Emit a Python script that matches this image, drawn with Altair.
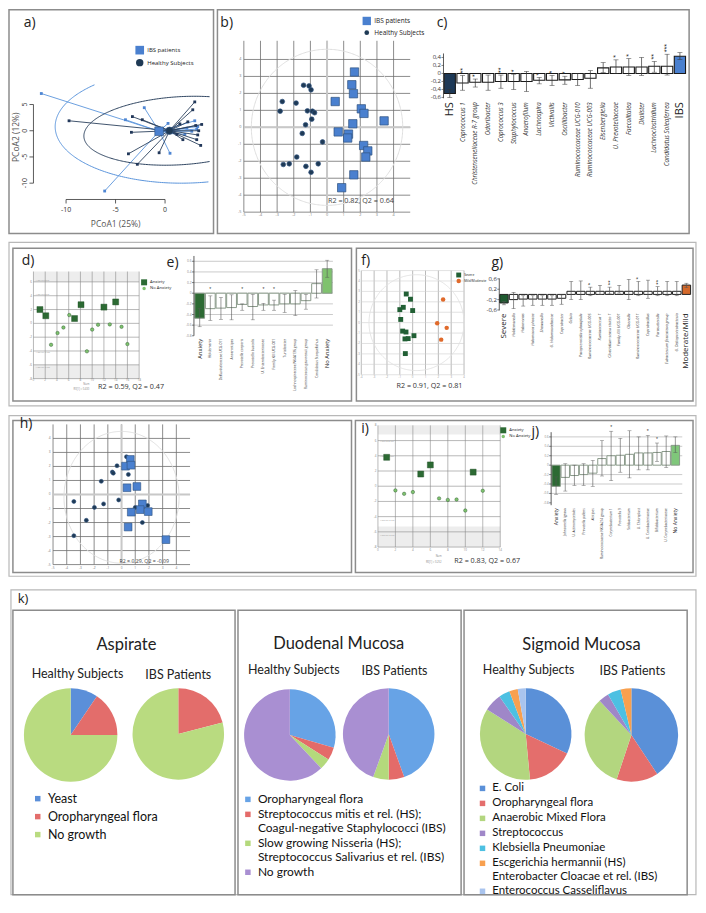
import numpy as np
import pandas as pd
import altair as alt

# ---------------------------------------------------------------- layout helpers
W, H = 690, 888
SX, SY = 0.98, 0.975


def LX(r):
    return (r - 2.0) * SX


def LY(r):
    return (r - 2.0) * SY


FONT = "Open Sans"
KFONT = "Lato"
ONE = pd.DataFrame({"z": [0]})

# ---------------------------------------------------------------- data
# a) PCoA
A_GROUPS = ["IBS patients", "Healthy Subjects"]
A_IBS_X = [-12.5, -6.1, -4.0, -2.1, 0.5, 0.3, 2.0, 3.0, 3.2, 3.3, 2.7, 0.9, 2.2]
A_IBS_Y = [7.1, -11.5, 2.1, 4.4, -4.3, 1.4, -0.7, 1.9, 0.3, 0.8, -0.1, -0.4, 0.5]
A_HS_X = [-9.7, -3.3, -2.3, -3.4, -3.7, -2.8, 3.0, 2.8, 3.6, 1.8, 3.3, 2.3, 3.4, 3.7, 3.1, 1.5, 1.2, -0.6, 3.2]
A_HS_Y = [1.9, 2.7, 2.1, -0.3, -4.4, -6.4, 5.5, 4.0, -2.8, -1.7, -0.8, 1.7, 0.0, 1.2, 1.0, 1.3, -0.7, -4.2, -1.7]
A_CENTROID_X = [-0.6, 0.45]
A_CENTROID_Y = [-0.1, 0.0]
A_ELL_IBS = [1.9, 1.0, 13.0, 11.0, 0.22]   # cx, cy, a, b, shear
A_ELL_HS = [1.5, 0.0, 9.7, 6.5, 1.0]
A_XTICKS = [-10, -5, 0]
A_YTICKS = [-10, -5, 0, 5]

# b) PLS-DA scores IBS vs HS
B_HS_X = [-1.41, -1.08, -0.96, -2.69, -1.86, -2.82, -1.18, -0.88, -0.75, -0.92, -1.29, -1.49, -0.27, -1.82, -2.63, -2.27, -1.27, -0.53, -0.96]
B_HS_Y = [2.48, 2.44, 2.21, 1.52, 1.43, 0.95, 0.97, 0.95, 0.86, 0.48, 0.15, -0.36, -0.86, -1.75, -2.19, -2.15, -2.30, -2.15, -2.65]
B_IBS_X = [1.65, 1.49, 1.59, 0.49, 2.06, 2.22, 1.55, 3.43, 0.67, 1.29, 1.24, 2.20, 2.45, 2.33, 1.61, 0.88]
B_IBS_Y = [3.26, 2.51, 1.98, 1.52, 1.09, 0.82, 0.21, 0.38, -0.27, -0.40, -0.63, -1.07, -1.39, -1.75, -2.80, -3.56]

# c) loadings IBS vs HS
C_CATS = ["HS", "Coprococcus 1", "Christensenellaceae R-7 group", "Odoribacter", "Coprococcus 3",
          "Staphylococcus", "Anaerofilum", "Lachnospira", "Victivallis", "Oscillibacter",
          "Ruminococcaceae UCG-010", "Ruminococcaceae UCG-003", "Eisenbergiella", "U. Prevotellaceae",
          "Faecalitalea", "Dialister", "Lachnoclostridium", "Candidatus Soleaferrea", "IBS"]
C_VAL = [-0.5, -0.24, -0.22, -0.22, -0.2, -0.2, -0.2, -0.17, -0.17, -0.16, -0.15, -0.12, 0.14, 0.16, 0.16, 0.16, 0.18, 0.18, 0.43]
C_LO = [-0.6, -0.42, -0.34, -0.42, -0.37, -0.4, -0.45, -0.26, -0.3, -0.27, -0.3, -0.37, 0.02, 0.0, -0.05, -0.05, 0.03, -0.04, 0.35]
C_HI = [-0.4, -0.05, -0.14, -0.04, -0.04, -0.02, 0.05, -0.1, -0.05, -0.07, 0.0, 0.07, 0.27, 0.34, 0.37, 0.4, 0.3, 0.48, 0.52]
C_SIG = ["", "**", "*", "", "**", "*", "", "*", "*", "*", "", "", "", "*", "*", "", "**", "***", ""]
C_YTICKS = [-0.6, -0.4, -0.2, 0, 0.2, 0.4]

# d) scores anxiety
D_GROUPS = ["Anxiety", "No Anxiety"]
D_ANX_X = [1.1, 2.1, 7.0, 8.1, 12.0, 14.0]
D_ANX_Y = [2.0, 1.1, 0.7, 2.7, 2.35, 3.1]
D_NO_X = [3.0, 4.1, 5.1, 6.1, 9.1, 10.0, 11.0, 13.0, 15.0, 16.0]
D_NO_Y = [-3.1, -1.4, -0.6, 1.2, -4.05, -0.9, -0.2, -0.15, -0.5, -3.0]
SD_LABELS = ["1.0046*3 SD", "1.0046*2 SD", "1.0046*-2 SD", "1.0046*-3 SD"]
D_SD_Y = [6.3, 4.2, -4.2, -6.3]

# e) loadings anxiety
E_CATS = ["Anxiety", "Holdemania", "Defluviitaleaceae UCG-011", "Anaerostipes", "Prevotella corporis",
          "Prevotella buccalis", "U. Enterobacteriaceae", "Family XIII UCG-001", "Turicibacter",
          "Lachnospiraceae NK4A136 group", "Ruminococcus gauvreauii group", "Candidatus Stoquefichus", "No Anxiety"]
E_VAL = [-0.47, -0.29, -0.28, -0.27, -0.21, -0.25, -0.22, -0.22, -0.2, -0.2, -0.14, 0.18, 0.46]
E_LO = [-0.63, -0.51, -0.49, -0.5, -0.32, -0.5, -0.32, -0.32, -0.36, -0.42, -0.3, -0.09, 0.3]
E_HI = [-0.29, -0.05, -0.08, -0.03, -0.2, -0.02, -0.19, -0.13, -0.02, 0.05, -0.02, 0.44, 0.62]
E_SIG = ["", "*", "", "", "*", "", "*", "*", "", "", "", "", ""]
E_YTICKS = [-0.8, -0.6, -0.4, -0.2, 0, 0.2, 0.4, 0.6]

# f) scores severity
F_GROUPS = ["Severe", "Mild/Moderate"]
F_SEV_X = [-0.5, -0.17, -1.0, -0.73, 0.0, -0.93, -0.78, -0.52, -0.6, -0.35, 0.1, -0.57]
F_SEV_Y = [2.75, 2.25, 1.25, 1.47, 1.16, 0.31, -0.81, -0.9, -1.56, -1.53, -1.25, -2.97]
F_MOD_X = [2.37, 1.91, 2.65, 2.22]
F_MOD_Y = [2.22, -0.06, -0.5, -1.63]

# g) loadings severity
G_CATS = ["Severe", "Holdemanella", "Halomonas", "Halomonas phocae", "Shewanella", "U. Halomonadaceae",
          "Coprobacter", "Gelria", "Paraprevotella xylaniphila", "Ruminococcaceae UCG-005", "Ruminococcus 1",
          "Clostridium sensu stricto 1", "Family XIII UCG-001", "Olsenella", "Ruminococcaceae UCG-011",
          "Coprobacillus", "Parasutterella", "Eubacterium fissicatena group", "U. Deltaproteobacteria", "Moderate/Mild"]
G_VAL = [-0.33, -0.2, -0.18, -0.18, -0.18, -0.18, -0.15, 0.12, 0.12, 0.12, 0.12, 0.12, 0.12, 0.12, 0.12, 0.12, 0.12, 0.12, 0.12, 0.36]
G_LO = [-0.4, -0.55, -0.45, -0.42, -0.42, -0.42, -0.38, -0.2, -0.2, -0.05, 0.0, 0.02, 0.05, -0.2, -0.05, -0.15, -0.05, -0.05, -0.05, 0.26]
G_HI = [-0.28, 0.08, -0.05, -0.05, -0.05, -0.05, -0.02, 0.5, 0.52, 0.28, 0.35, 0.28, 0.35, 0.58, 0.5, 0.55, 0.3, 0.5, 0.5, 0.43]
G_SIG = ["", "", "", "", "", "", "", "", "", "*", "", "**", "", "", "*", "", "**", "", "", ""]
G_YTICKS = [-0.6, -0.2, 0.2, 0.6]

# h) scores (mucosa)
H_GROUPS = ["Healthy Subjects", "IBS patients"]
H_HS_X = [-3.48, -2.57, -1.98, -3.48, -1.48, -1.31, -0.67, -0.6, -0.33, -0.21, 0.36, 0.5, 1.0, 1.9, 1.52]
H_HS_Y = [-0.5, -1.84, -0.92, -2.94, 0.94, -0.67, 1.6, 1.52, 2.05, -0.39, 2.69, 1.43, -0.92, -0.78, -2.0]
H_IBS_X = [0.64, 0.29, 0.69, 1.12, 0.4, 1.52, 1.36, 0.71, 1.95, 0.48, 3.24]
H_IBS_Y = [2.5, 2.02, 2.09, 0.57, 0.48, -0.67, -1.08, -1.26, -1.22, -2.32, -3.22]

# i) scores anxiety (mucosa)
I_ANX_X = [1.0, 4.9, 6.0, 10.9]
I_ANX_Y = [3.8, 1.6, 2.8, 1.85]
I_NO_X = [2.0, 3.0, 4.0, 7.0, 8.0, 9.0, 10.0, 12.0]
I_NO_Y = [-0.55, -1.0, -0.77, -1.6, -1.8, -1.75, -3.2, -0.6]
I_SD_Y = [6.0, 4.0, -4.4, -6.4]

# j) loadings anxiety (mucosa)
J_CATS = ["Anxiety", "Johnsonella ignava", "U. Actinomycetales", "Prevotella pallens", "Alistipes",
          "Ruminococcaceae NK4A214 group", "Corynebacterium 1", "Prevotella 9", "Solobacterium",
          "U. Chloroplast", "U. Coriobacteriaceae", "Bifidobacterium", "U. Corynebacteriaceae", "No Anxiety"]
J_VAL = [-0.45, -0.26, -0.22, -0.2, -0.17, 0.14, 0.2, 0.21, 0.23, 0.26, 0.26, 0.27, 0.29, 0.42]
J_LO = [-0.62, -0.55, -0.43, -0.43, -0.45, -0.23, -0.33, -0.15, -0.27, -0.1, -0.1, 0.08, -0.05, 0.27]
J_HI = [-0.25, 0.03, 0.0, 0.03, 0.1, 0.52, 0.72, 0.57, 0.73, 0.6, 0.63, 0.47, 0.62, 0.6]
J_SIG = ["", "", "", "", "", "", "*", "", "", "", "*", "*", "", ""]

# k) culture pies (percent)
K_ASP_CATS = ["Yeast", "Oropharyngeal flora", "No growth"]
K_ASP_HS = [9.5, 15.5, 75.0]
K_ASP_IBS = [0.0, 21.0, 79.0]
K_ASP_COLORS = ["#5b8fd9", "#e36d6b", "#b9db80"]

K_DUO_CATS = ["Oropharyngeal flora",
              "Streptococcus mitis et rel. (HS);|Coagul-negative Staphylococci (IBS)",
              "Slow growing Nisseria (HS);|Streptococcus Salivarius et rel. (IBS)",
              "No growth"]
K_DUO_HS = [29.5, 4.5, 4.0, 62.0]
K_DUO_IBS = [44.5, 5.5, 5.5, 44.5]
K_DUO_COLORS = ["#67a3e6", "#e46b69", "#b4d97c", "#a98fd2"]

K_SIG_CATS = ["E. Coli", "Oropharyngeal flora", "Anaerobic Mixed Flora", "Streptococcus",
              "Klebsiella Pneumoniae", "Escgerichia hermannii (HS)|Enterobacter Cloacae et rel. (IBS)",
              "Enterococcus Casseliflavus"]
K_SIG_HS = [32.0, 16.5, 35.5, 6.3, 3.9, 3.0, 2.8]
K_SIG_IBS = [40.7, 14.4, 33.0, 3.6, 4.6, 3.7, 0.0]
K_SIG_COLORS = ["#5a90d8", "#e46e6c", "#b3d67f", "#9f87c8", "#4dc0e2", "#f8a04f", "#a9c4ee"]

# ---------------------------------------------------------------- builders


def qx(lo, hi, p0, p1):
    return alt.Scale(domain=[lo, hi], range=[LX(p0), LX(p1)], nice=False, zero=False)


def qy(lo, hi, pbot, ptop):
    return alt.Scale(domain=[lo, hi], range=[LY(pbot), LY(ptop)], nice=False, zero=False)


def fmt(v, comma=False):
    if v == 0:
        return "0"
    s = f"{abs(v):.1f}"
    if comma:
        s = s.replace(".", ",")
    return ("-" if v < 0 else "") + s


def text(s, x, y, size, color="#222", font=FONT, align="left", weight="normal", angle=0):
    props = dict(text=s, font=font, fontSize=size, color=color, align=align, baseline="middle",
                 fontWeight=weight)
    if angle:
        props["angle"] = angle
    return alt.Chart(ONE).mark_text(**props).encode(x=alt.value(LX(x)), y=alt.value(LY(y)))


def frame(x0, y0, x1, y1, color, width):
    return alt.Chart(ONE).mark_rect(fillOpacity=0, stroke=color, strokeWidth=width).encode(
        x=alt.value(LX(x0)), x2=alt.value(LX(x1)), y=alt.value(LY(y0)), y2=alt.value(LY(y1)))


def vgrid(vals, xs, ys, y0, y1, color, width):
    return alt.Chart(pd.DataFrame({"v": list(vals)})).mark_rule(color=color, strokeWidth=width).encode(
        x=alt.X("v:Q", scale=xs, axis=None),
        y=alt.YDatum(y0, type="quantitative", scale=ys, axis=None), y2=alt.Y2Datum(y1))


def hgrid(vals, xs, ys, x0, x1, color, width):
    return alt.Chart(pd.DataFrame({"v": list(vals)})).mark_rule(color=color, strokeWidth=width).encode(
        y=alt.Y("v:Q", scale=ys, axis=None),
        x=alt.XDatum(x0, type="quantitative", scale=xs, axis=None), x2=alt.X2Datum(x1))


def bands(spans, xs, ys, x0, x1, color):
    df = pd.DataFrame({"y0": [s[0] for s in spans], "y1": [s[1] for s in spans]})
    return alt.Chart(df).mark_rect(color=color).encode(
        x=alt.XDatum(x0, type="quantitative", scale=xs, axis=None), x2=alt.X2Datum(x1),
        y=alt.Y("y0:Q", scale=ys, axis=None), y2="y1:Q")


def xlabels(vals, labels, xs, y_ref, size, color, font=FONT):
    df = pd.DataFrame({"v": list(vals), "t": list(labels)})
    return alt.Chart(df).mark_text(fontSize=size, color=color, font=font, baseline="top", align="center").encode(
        x=alt.X("v:Q", scale=xs, axis=None), y=alt.value(LY(y_ref)), text="t:N")


def ylabels(vals, labels, ys, x_ref, size, color, font=FONT, rotated=False, align="right"):
    df = pd.DataFrame({"v": list(vals), "t": list(labels)})
    if rotated:
        mk = alt.Chart(df).mark_text(fontSize=size, color=color, font=font, angle=270, align="center",
                                     baseline="bottom")
    else:
        mk = alt.Chart(df).mark_text(fontSize=size, color=color, font=font, align=align, baseline="middle")
    return mk.encode(y=alt.Y("v:Q", scale=ys, axis=None), x=alt.value(LX(x_ref)), text="t:N")


def xticks(vals, xs, y_ref, length, color="#333", width=0.8):
    df = pd.DataFrame({"v": list(vals)})
    return alt.Chart(df).mark_rule(color=color, strokeWidth=width).encode(
        x=alt.X("v:Q", scale=xs, axis=None), y=alt.value(LY(y_ref)), y2=alt.value(LY(y_ref) + length))


def yticks(vals, ys, x_ref, length, color="#333", width=0.8):
    df = pd.DataFrame({"v": list(vals)})
    return alt.Chart(df).mark_rule(color=color, strokeWidth=width).encode(
        y=alt.Y("v:Q", scale=ys, axis=None), x=alt.value(LX(x_ref) - length), x2=alt.value(LX(x_ref)))


def ellipse_rows(params, xdom, ydom, tag, n=361):
    cx, cy, a, b, k = params
    t = np.linspace(0, 2 * np.pi, n)
    ex = cx + a * np.cos(t)
    ey = cy + b * np.sin(t) + k * np.cos(t)
    rows, seg, prev = [], 0, False
    for i in range(n):
        inside = xdom[0] <= ex[i] <= xdom[1] and ydom[0] <= ey[i] <= ydom[1]
        if inside:
            if not prev:
                seg += 1
            rows.append({"x": float(ex[i]), "y": float(ey[i]), "i": i, "seg": f"{tag}-{seg}", "grp": tag})
        prev = inside
    return rows


def outline(params, xs, ys, xdom, ydom, color, width=1.0):
    df = pd.DataFrame(ellipse_rows(params, xdom, ydom, "c"))
    return alt.Chart(df).mark_line(color=color, strokeWidth=width).encode(
        x=alt.X("x:Q", scale=xs, axis=None), y=alt.Y("y:Q", scale=ys, axis=None),
        detail="seg:N", order="i:Q")


def small_legend(x, y, size, rowpad=2):
    return alt.Legend(orient="none", legendX=LX(x), legendY=LY(y), title=None, labelFont=FONT,
                      labelFontSize=size, labelColor="#222", rowPadding=rowpad, labelLimit=300,
                      symbolStrokeWidth=0, labelOffset=3)


def group_points(xl, yl, groups, xs, ys, colors, shapes, sizes, legend=None, stroke=None, sw=0.0):
    xv, yv, gv = [], [], []
    for g, X_, Y_ in zip(groups, xl, yl):
        xv += list(X_)
        yv += list(Y_)
        gv += [g] * len(X_)
    df = pd.DataFrame({"x": xv, "y": yv, "grp": gv})
    props = dict(filled=True, opacity=1)
    if stroke:
        props.update(stroke=stroke, strokeWidth=sw)
    return alt.Chart(df).mark_point(**props).encode(
        x=alt.X("x:Q", scale=xs, axis=None), y=alt.Y("y:Q", scale=ys, axis=None),
        color=alt.Color("grp:N", scale=alt.Scale(domain=groups, range=colors), legend=legend),
        shape=alt.Shape("grp:N", scale=alt.Scale(domain=groups, range=shapes), legend=legend),
        size=alt.Size("grp:N", scale=alt.Scale(domain=groups, range=sizes), legend=legend))


def bar_panel(cats, vals, los, his, sigs, x0, x1, ybot, ytop, ydom, fills, stroke, sw, errc, cap,
              yvals, comma, ysize, ylabc, big, bigsize, smallsize, italic, star_rot, star_size,
              star_fixed=None, pin=0.12, pout=0.05, pad=3, errw=0.7, big_color="#222"):
    n = len(cats)
    roles = ["lo"] + ["mid"] * (n - 2) + ["hi"]
    df = pd.DataFrame({"cat": cats, "val": vals, "lo": los, "hi": his, "sig": sigs, "role": roles})
    xs = alt.Scale(domain=cats, range=[LX(x0), LX(x1)], paddingInner=pin, paddingOuter=pout)
    ys = qy(ydom[0], ydom[1], ybot, ytop)
    bx = alt.X("cat:N", scale=xs, axis=None)
    bars = alt.Chart(df).mark_bar(stroke=stroke, strokeWidth=sw).encode(
        x=bx, y=alt.Y("val:Q", scale=ys, axis=None), y2=alt.Y2Datum(0),
        fill=alt.Fill("role:N", scale=alt.Scale(domain=["lo", "mid", "hi"], range=fills), legend=None))
    err = alt.Chart(df).mark_rule(color=errc, strokeWidth=errw).encode(
        x=bx, y=alt.Y("lo:Q", scale=ys, axis=None), y2="hi:Q")
    cap_lo = alt.Chart(df).mark_tick(color=errc, thickness=errw, size=cap).encode(
        x=bx, y=alt.Y("lo:Q", scale=ys, axis=None))
    cap_hi = alt.Chart(df).mark_tick(color=errc, thickness=errw, size=cap).encode(
        x=bx, y=alt.Y("hi:Q", scale=ys, axis=None))
    sdf = df[df.sig != ""]
    if star_rot:
        st = alt.Chart(sdf).mark_text(angle=270, align="left", baseline="middle", dx=2, fontSize=star_size,
                                      color="#222").encode(
            x=bx, y=alt.Y("hi:Q", scale=ys, axis=None), text="sig:N")
    elif star_fixed is not None:
        st = alt.Chart(sdf).mark_text(baseline="bottom", fontSize=star_size, color="#333").encode(
            x=bx, y=alt.YDatum(star_fixed, type="quantitative", scale=ys, axis=None), text="sig:N")
    else:
        st = alt.Chart(sdf).mark_text(baseline="bottom", dy=-1, fontSize=star_size, color="#333").encode(
            x=bx, y=alt.Y("hi:Q", scale=ys, axis=None), text="sig:N")
    yline = alt.Chart(ONE).mark_rule(color="#333", strokeWidth=0.8).encode(
        x=alt.value(LX(x0)), y=alt.YDatum(ydom[0], type="quantitative", scale=ys, axis=None),
        y2=alt.Y2Datum(ydom[1]))
    ytk = yticks(yvals, ys, x0, 2, "#333", 0.6)
    ylab = ylabels(yvals, [fmt(v, comma) for v in yvals], ys, x0 - 2.5, ysize, ylabc)
    small = df[~df.cat.isin(big)]
    bigdf = df[df.cat.isin(big)]
    lab_small = alt.Chart(small).mark_text(angle=270, align="right", baseline="middle", fontSize=smallsize,
                                           fontStyle="italic" if italic else "normal", color="#333",
                                           font=FONT).encode(
        x=bx, y=alt.value(LY(ybot) + pad), text="cat:N")
    lab_big = alt.Chart(bigdf).mark_text(angle=270, align="right", baseline="middle", fontSize=bigsize,
                                         color=big_color, font=FONT).encode(
        x=bx, y=alt.value(LY(ybot) + pad), text="cat:N")
    return alt.layer(bars, err, cap_lo, cap_hi, st, yline, ytk, ylab, lab_small, lab_big)


layers = []

# ---------------------------------------------------------------- frames
FR, FR2 = "#8c8c8c", "#b8b8b8"
FRAMES = [
    (2, 2, 211, 232, FR, 1.5), (215, 2, 697, 232, FR, 1.5),
    (2, 241, 704, 409, FR2, 1.2), (6, 247, 352, 404, FR, 1.5), (357, 247, 701, 404, FR, 1.5),
    (2, 419, 704, 584, FR2, 1.2), (6, 424, 352, 580, FR, 1.5), (356, 424, 701, 580, FR, 1.5),
    (4, 598, 704, 911, FR2, 1.2), (6, 619, 233, 911, FR, 1.5), (236, 619, 464, 911, FR, 1.5),
    (467, 619, 695, 911, FR, 1.5),
]
for f in FRAMES:
    layers.append(frame(*f))

# ---------------------------------------------------------------- a)
a_xd, a_yd = (-12.7, 4.5), (-12.0, 8.8)
a_xs = qx(a_xd[0], a_xd[1], 33, 207)
a_ys = qy(a_yd[0], a_yd[1], 191, 79)
A_LINE_COLORS = ["#5b95db", "#2c425e"]
A_PT_COLORS = ["#4f86d3", "#22385a"]


def a_group_layers(xv, yv, cx, cy, ell, lc, pc):
    df = pd.DataFrame({"x": xv, "y": yv, "cx": [cx] * len(xv), "cy": [cy] * len(xv)})
    edf = pd.DataFrame(ellipse_rows(ell, a_xd, a_yd, "e"))
    return [
        alt.Chart(edf).mark_line(strokeWidth=1, color=lc).encode(
            x=alt.X("x:Q", scale=a_xs, axis=None), y=alt.Y("y:Q", scale=a_ys, axis=None),
            detail="seg:N", order="i:Q"),
        alt.Chart(df).mark_rule(strokeWidth=0.9, color=lc).encode(
            x=alt.X("x:Q", scale=a_xs, axis=None), y=alt.Y("y:Q", scale=a_ys, axis=None),
            x2="cx:Q", y2="cy:Q"),
        alt.Chart(df).mark_point(shape="square", filled=True, size=8, opacity=1, color=pc).encode(
            x=alt.X("x:Q", scale=a_xs, axis=None), y=alt.Y("y:Q", scale=a_ys, axis=None)),
    ]


panel_a = alt.layer(
    *a_group_layers(A_IBS_X, A_IBS_Y, A_CENTROID_X[0], A_CENTROID_Y[0], A_ELL_IBS, A_LINE_COLORS[0], A_PT_COLORS[0]),
    *a_group_layers(A_HS_X, A_HS_Y, A_CENTROID_X[1], A_CENTROID_Y[1], A_ELL_HS, A_LINE_COLORS[1], A_PT_COLORS[1]),
    group_points([[A_CENTROID_X[0]], [A_CENTROID_X[1]]], [[A_CENTROID_Y[0]], [A_CENTROID_Y[1]]],
                 A_GROUPS, a_xs, a_ys, ["#4a80cf", "#1f3a55"], ["square", "circle"], [75, 55],
                 legend=small_legend(131, 39, 6, rowpad=4), stroke="#2f527f", sw=0.6),
    alt.Chart(ONE).mark_rule(color="#333", strokeWidth=0.8).encode(
        x=alt.XDatum(-10, type="quantitative", scale=a_xs, axis=None), x2=alt.X2Datum(0),
        y=alt.value(LY(197))),
    alt.Chart(ONE).mark_rule(color="#333", strokeWidth=0.8).encode(
        y=alt.YDatum(-10, type="quantitative", scale=a_ys, axis=None), y2=alt.Y2Datum(5),
        x=alt.value(LX(27))),
    xticks(A_XTICKS, a_xs, 197, 4),
    yticks(A_YTICKS, a_ys, 27, 4),
    xlabels(A_XTICKS, [str(v) for v in A_XTICKS], a_xs, 204, 7, "#333"),
    ylabels(A_YTICKS, [str(v) for v in A_YTICKS], a_ys, 21.5, 7, "#333", rotated=True),
)
layers += [panel_a, text("a)", 17, 16, 14),
           text("PCoA1 (25%)", 111, 222, 8.5, color="#555", align="center"),
           text("PCoA2 (12%)", 9, 133, 8.5, color="#555", align="center", angle=270)]

# ---------------------------------------------------------------- b)
b_xs = qx(-5, 5, 242, 412)
b_ys = qy(-5, 5.1, 210, 34)
B_TICKS = list(range(-5, 5))
panel_b = alt.layer(
    vgrid(B_TICKS, b_xs, b_ys, -5, 5.1, "#6e6e6e", 0.8),
    hgrid(B_TICKS, b_xs, b_ys, -5, 5, "#6e6e6e", 0.8),
    hgrid([0], b_xs, b_ys, -5, 5, "#c8c8c8", 2),
    vgrid([0], b_xs, b_ys, -5, 5.1, "#c8c8c8", 2),
    outline([0, 0, 4.55, 4.6, 0], b_xs, b_ys, (-5, 5), (-5, 5.1), "#dedede", 1),
    xlabels(B_TICKS, [str(v) for v in B_TICKS], b_xs, 211, 3.8, "#777"),
    ylabels(B_TICKS, [str(v) for v in B_TICKS], b_ys, 239.5, 3.8, "#777"),
    group_points([B_IBS_X, B_HS_X], [B_IBS_Y, B_HS_Y], A_GROUPS, b_xs, b_ys,
                 ["#4a80cf", "#1f3a55"], ["square", "circle"], [70, 22],
                 legend=small_legend(363, 9, 6.5, rowpad=4), stroke="#2f527f", sw=0.7),
)
layers += [panel_b, text("b)", 218, 16, 14), text("R2 = 0.82, Q2 = 0.64", 328, 199, 7.2, color="#444")]

# ---------------------------------------------------------------- c)
panel_c = bar_panel(C_CATS, C_VAL, C_LO, C_HI, C_SIG, 446, 694, 93, 47, (-0.62, 0.5),
                    ["#1d3957", "#ffffff", "#4a80cf"], "#1a1a1a", 1.1, "#333", 5,
                    C_YTICKS, True, 6, "#333",
                    ["HS", "IBS"], 11, 6.2, True, True, 7, pin=0.12, pout=0.05, pad=4)
layers += [panel_c, text("c)", 439, 16, 14)]

# ---------------------------------------------------------------- d)
d_xs = qx(0, 18, 27, 135)
d_ys = qy(-8, 7.5, 381, 271)
D_XT = list(range(0, 19, 2))
D_YT = list(range(-8, 7, 2))
panel_d = alt.layer(
    bands([(6, 7.5), (-8, -6)], d_xs, d_ys, 0, 18, "#ededed"),
    vgrid(D_XT, d_xs, d_ys, -8, 7.5, "#8a8a8a", 0.6),
    hgrid(range(-8, 7, 2), d_xs, d_ys, 0, 18, "#8a8a8a", 0.6),
    xlabels(D_XT, [str(v) for v in D_XT], d_xs, 381.8, 3, "#888"),
    ylabels(D_YT, [str(v) for v in D_YT], d_ys, 25.5, 3, "#888"),
    ylabels(D_SD_Y, SD_LABELS, d_ys, 29, 2.4, "#999", align="left"),
    group_points([D_ANX_X, D_NO_X], [D_ANX_Y, D_NO_Y], D_GROUPS, d_xs, d_ys,
                 ["#2c6a33", "#7fc26e"], ["square", "circle"], [36, 12],
                 legend=small_legend(137, 279, 4.2, rowpad=1), stroke="#1d4a22", sw=0.4),
)
layers += [panel_d, text("d)", 15, 260, 14), text("R2 = 0.59, Q2 = 0.47", 93, 390, 7.2, color="#333"),
           text("Num", 81, 387, 2.6, color="#888", align="center"),
           text("R0[1] = 0.430", 76, 392, 2.6, color="#888", align="center")]

# ---------------------------------------------------------------- e)
e_grid = hgrid([-0.6, -0.4, -0.2, 0, 0.2, 0.4, 0.6], qx(0, 1, 191, 333), qy(-0.8, 0.7, 337, 255), 0, 1,
               "#a8a8a8", 0.6)
panel_e = bar_panel(E_CATS, E_VAL, E_LO, E_HI, E_SIG, 191, 333, 337, 255, (-0.8, 0.7),
                    ["#2c6a33", "#ffffff", "#7fc26e"], "#8a9a8a", 1.0, "#555", 4,
                    E_YTICKS, False, 3.2, "#888",
                    ["Anxiety", "No Anxiety"], 5.8, 3.4, False, False, 5, star_fixed=0.02,
                    pin=0.08, pout=0.08, pad=3, errw=0.6)
layers += [e_grid, panel_e, text("e)", 163, 262, 14)]

# ---------------------------------------------------------------- f)
f_xs = qx(-4, 4, 362, 467)
f_ys = qy(-5, 5, 377, 270)
F_XT = list(range(-4, 5))
F_YT = list(range(-5, 6))
panel_f = alt.layer(
    vgrid(F_XT, f_xs, f_ys, -5, 5, "#a8a8a8", 0.8),
    hgrid(F_YT, f_xs, f_ys, -4, 4, "#cfcfcf", 0.6),
    outline([0.3, 0, 3.7, 4.6, 0], f_xs, f_ys, (-4, 4), (-5, 5), "#e2e2e2", 1),
    xlabels(F_XT, [str(v) for v in F_XT], f_xs, 378.5, 2.8, "#999"),
    ylabels(F_YT, [str(v) for v in F_YT], f_ys, 360.5, 2.8, "#999"),
    group_points([F_SEV_X, F_MOD_X], [F_SEV_Y, F_MOD_Y], F_GROUPS, f_xs, f_ys,
                 ["#215f34", "#e06a2b"], ["square", "circle"], [24, 20],
                 legend=small_legend(459, 272, 3.2, rowpad=1)),
)
layers += [panel_f, text("f)", 362, 260, 14), text("R2 = 0.91, Q2 = 0.81", 398, 389, 7.2, color="#333")]

# ---------------------------------------------------------------- g)
panel_g = bar_panel(G_CATS, G_VAL, G_LO, G_HI, G_SIG, 503, 699, 311, 278, (-0.62, 0.62),
                    ["#1f5a30", "#ffffff", "#d4692a"], "#222", 1.0, "#555", 4,
                    G_YTICKS, True, 6, "#333",
                    ["Severe", "Moderate/Mild"], 8, 3.8, True, True, 6, pin=0.12, pout=0.05, pad=3)
layers += [panel_g, text("g)", 495, 262, 14)]

# ---------------------------------------------------------------- h)
h_xs = qx(-5, 5, 47, 187)
h_ys = qy(-5, 5, 572, 428)
H_TICKS = list(range(-5, 5))
panel_h = alt.layer(
    vgrid(H_TICKS, h_xs, h_ys, -5, 5, "#6e6e6e", 0.8),
    hgrid(H_TICKS, h_xs, h_ys, -5, 5, "#6e6e6e", 0.8),
    hgrid([0], h_xs, h_ys, -5, 5, "#c8c8c8", 2),
    vgrid([0], h_xs, h_ys, -5, 5, "#c8c8c8", 2),
    outline([0, -0.2, 4.2, 4.7, 0], h_xs, h_ys, (-5, 5), (-5, 5), "#dedede", 1),
    xlabels(H_TICKS, [str(v) for v in H_TICKS], h_xs, 573.5, 3.2, "#777"),
    ylabels(H_TICKS, [str(v) for v in H_TICKS], h_ys, 44.5, 3.2, "#777"),
    group_points([H_HS_X, H_IBS_X], [H_HS_Y, H_IBS_Y], H_GROUPS, h_xs, h_ys,
                 ["#1f3a55", "#4a80cf"], ["circle", "square"], [16, 60], stroke="#2f527f", sw=0.6),
)
layers += [panel_h, text("h)", 13, 428, 14), text("R2 = 0.29, Q2 = -0.09", 115, 568, 5.2, color="#444")]

# ---------------------------------------------------------------- i)
i_xs = qx(0, 14, 379, 504)
i_ys = qy(-8, 8, 554, 429)
I_XT = list(range(0, 15, 2))
I_YT = list(range(-8, 9, 2))
panel_i = alt.layer(
    bands([(6.8, 8), (-8, -5.3)], i_xs, i_ys, 0, 14, "#ededed"),
    vgrid(I_XT, i_xs, i_ys, -8, 8, "#8a8a8a", 0.6),
    hgrid(range(-8, 7, 2), i_xs, i_ys, 0, 14, "#8a8a8a", 0.6),
    xlabels(I_XT, [str(v) for v in I_XT], i_xs, 555.5, 3, "#888"),
    ylabels(I_YT, [str(v) for v in I_YT], i_ys, 377.5, 3, "#888"),
    ylabels(I_SD_Y, SD_LABELS, i_ys, 381, 2.4, "#999", align="left"),
    group_points([I_ANX_X, I_NO_X], [I_ANX_Y, I_NO_Y], D_GROUPS, i_xs, i_ys,
                 ["#2c6a33", "#7fc26e"], ["square", "circle"], [36, 12],
                 legend=small_legend(504, 431, 4.2, rowpad=1), stroke="#1d4a22", sw=0.4),
)
layers += [panel_i, text("i)", 362, 433, 14), text("R2 = 0.83, Q2 = 0.67", 457, 568, 7.2, color="#333"),
           text("Num", 441, 563, 2.6, color="#888", align="center"),
           text("R0[1] = 0.252", 436, 569, 2.6, color="#888", align="center")]

# ---------------------------------------------------------------- j)
j_grid = hgrid([-0.6, -0.4, -0.2, 0.2, 0.4, 0.6], qx(0, 1, 556, 690), qy(-0.85, 0.7, 511, 436), 0, 1,
               "#a8a8a8", 0.6)
panel_j = bar_panel(J_CATS, J_VAL, J_LO, J_HI, J_SIG, 556, 688, 511, 436, (-0.85, 0.7),
                    ["#2c6a33", "#ffffff", "#7fc77a"], "#8a9a8a", 1.0, "#555", 4,
                    E_YTICKS, False, 3.0, "#888",
                    ["Anxiety", "No Anxiety"], 5, 3.2, False, False, 5,
                    pin=0.08, pout=0.08, pad=3, errw=0.6)
layers += [j_grid, panel_j, text("j)", 536, 436, 14)]

# ---------------------------------------------------------------- k) pies


def pie(cats, vals, colors, cx, cy, r, legend):
    df = pd.DataFrame({"cat": cats, "v": vals, "ord": list(range(len(cats)))})
    return alt.Chart(df).mark_arc(radius=r * SY).encode(
        theta=alt.Theta("v:Q", stack=True),
        color=alt.Color("cat:N", scale=alt.Scale(domain=cats, range=colors), legend=legend),
        order=alt.Order("ord:Q"),
        x=alt.value(LX(cx)), y=alt.value(LY(cy)))


def k_legend(x, y, size, rowpad):
    return alt.Legend(orient="none", legendX=LX(x), legendY=LY(y), title=None, labelFont=KFONT,
                      labelFontSize=size, labelColor="#111", symbolType="square", symbolSize=30,
                      symbolStrokeWidth=0, rowPadding=rowpad, labelLimit=400, labelOffset=4,
                      labelExpr="split(datum.label, '|')")


leg_asp = k_legend(25, 806, 12.5, 5)
leg_duo = k_legend(240, 807, 12, 3)
leg_sig = k_legend(480, 796, 11.5, 2)
layers += [
    alt.layer(pie(K_ASP_CATS, K_ASP_HS, K_ASP_COLORS, 65, 747, 48, leg_asp),
              pie(K_ASP_CATS, K_ASP_IBS, K_ASP_COLORS, 175, 746, 47, leg_asp)).resolve_scale(theta="independent"),
    alt.layer(pie(K_DUO_CATS, K_DUO_HS, K_DUO_COLORS, 289, 747, 47, leg_duo),
              pie(K_DUO_CATS, K_DUO_IBS, K_DUO_COLORS, 390, 746, 47, leg_duo)).resolve_scale(theta="independent"),
    alt.layer(pie(K_SIG_CATS, K_SIG_HS, K_SIG_COLORS, 530, 746, 47, leg_sig),
              pie(K_SIG_CATS, K_SIG_IBS, K_SIG_COLORS, 638, 747, 48, leg_sig)).resolve_scale(theta="independent"),
    text("k)", 11, 607, 13),
    text("Aspirate", 122, 655, 16.5, font=KFONT, align="center"),
    text("Healthy Subjects", 72, 684, 12.5, font=KFONT, align="center"),
    text("IBS Patients", 175, 685, 12.5, font=KFONT, align="center"),
    text("Duodenal Mucosa", 339, 654, 16.5, font=KFONT, align="center"),
    text("Healthy Subjects", 293, 680, 12.5, font=KFONT, align="center"),
    text("IBS Patients", 396, 681, 12.5, font=KFONT, align="center"),
    text("Sigmoid Mucosa", 587, 655, 16.5, font=KFONT, align="center"),
    text("Healthy Subjects", 533, 680, 12.5, font=KFONT, align="center"),
    text("IBS Patients", 639, 681, 12.5, font=KFONT, align="center"),
]

# ---------------------------------------------------------------- assemble
chart = alt.layer(*layers).properties(width=W, height=H, padding=0).resolve_scale(
    x="independent", y="independent", color="independent", fill="independent", stroke="independent",
    shape="independent", size="independent", theta="independent"
).resolve_axis(x="independent", y="independent").resolve_legend(
    color="independent", fill="independent", stroke="independent", shape="independent", size="independent"
).configure_view(stroke=None).configure_axis(grid=False, labelFont=FONT, titleFont=FONT)

chart.save("out.html", embed_options={"renderer": "svg", "actions": False})
